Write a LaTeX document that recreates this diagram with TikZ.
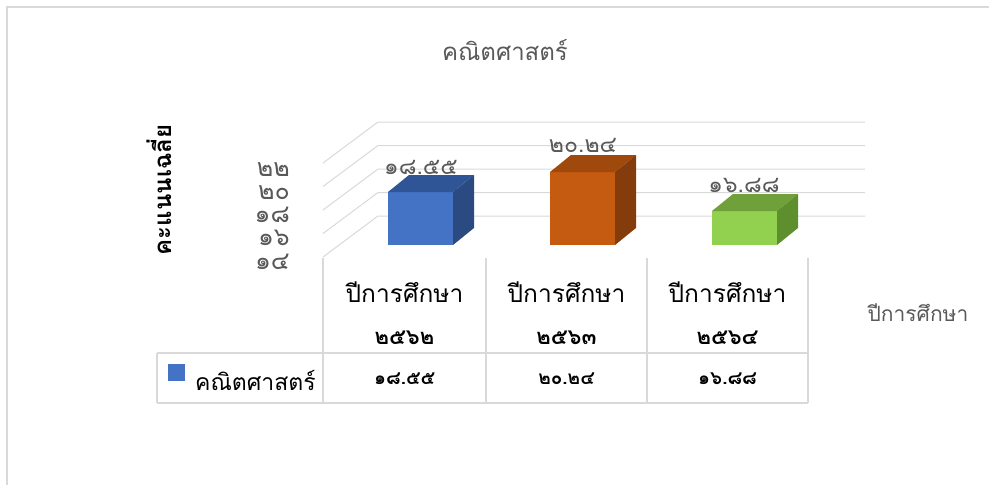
\documentclass[tikz,border=0pt]{standalone}
\usepackage{fontspec}
\newfontfamily\thai[Script=Thai]{Loma}
\definecolor{gridc}{HTML}{D9D9D9}
\definecolor{txtg}{HTML}{595959}
\definecolor{bfront}{HTML}{4472C4}
\definecolor{btop}{HTML}{2F5597}
\definecolor{bside}{HTML}{2B4A82}
\definecolor{ofront}{HTML}{C55A11}
\definecolor{otop}{HTML}{A0490C}
\definecolor{oside}{HTML}{843C0C}
\definecolor{gfront}{HTML}{92D050}
\definecolor{gtop}{HTML}{6FA03A}
\definecolor{gside}{HTML}{5E8F2E}
\tikzset{
  gridl/.style={draw=gridc, line width=1pt},
  tabl/.style={draw=gridc, line width=1.2pt},
  ticklab/.style={font=\thai\fontsize{25}{25}\selectfont, text=txtg, anchor=east, inner sep=0pt},
  vallab/.style={font=\thai\fontsize{23}{23}\selectfont, text=txtg, inner sep=0pt},
  headlab/.style={font=\thai\fontsize{24.5}{24.5}\selectfont, text=black, inner sep=0pt},
  yearlab/.style={font=\thai\bfseries\fontsize{22}{22}\selectfont, text=black, inner sep=0pt},
  datlab/.style={font=\thai\bfseries\fontsize{19}{19}\selectfont, text=black, inner sep=0pt},
}
\begin{document}
\begin{tikzpicture}[x=1pt,y=-1pt]
\useasboundingbox (0,0) rectangle (989,485);
% outer frame (partly visible)
\draw[draw=gridc, line width=2pt] (7,485) -- (7,7) -- (989,7);
% title
\node[font=\thai\fontsize{24}{24}\selectfont, text=txtg, inner sep=0pt] (title) at (505,50) {คณิตศาสตร์};
% y axis title
\node[font=\thai\bfseries\fontsize{24}{24}\selectfont, text=black, rotate=90, inner sep=0pt] (ytitle) at (159,190) {คะแนนเฉลี่ย};
% gridlines
\foreach \v [count=\i] in {14,16,18,20,22}{
  \pgfmathsetmacro{\yf}{257-(\v-14)*11.75}
  \pgfmathsetmacro{\yb}{216-(\v-14)*11.75}
  \coordinate (gf\i) at (323,\yf);
  \coordinate (gb\i) at (378,\yb);
  \coordinate (ge\i) at (865,\yb);
  \draw[gridl] (gf\i) -- (gb\i) -- (ge\i);
}
% tick labels
\node[ticklab] (t14) at (290,262) {๑๔};
\node[ticklab] (t16) at (290,238) {๑๖};
\node[ticklab] (t18) at (290,215) {๑๘};
\node[ticklab] (t20) at (290,193) {๒๐};
\node[ticklab] (t22) at (290,170) {๒๒};
% bars: front x0, width 65, base 245, depth (21,-17)
\foreach \xa/\top/\cf/\ct/\cs in {388/192/bfront/btop/bside, 550/172/ofront/otop/oside, 712/211/gfront/gtop/gside}{
  \pgfmathsetmacro{\xb}{\xa+65}
  \fill[\cf] (\xa,245) rectangle (\xb,\top);
  \fill[\ct] (\xa,\top) -- (\xb,\top) -- ++(21,-17) -- (\xa+21,\top-17) -- cycle;
  \fill[\cs] (\xb,245) -- (\xb,\top) -- ++(21,-17) -- (\xb+21,228) -- cycle;
}
% value labels
\node[vallab] (v1) at (421,167) {๑๘.๕๕};
\node[vallab] (v2) at (583,145) {๒๐.๒๔};
\node[vallab] (v3) at (744,185) {๑๖.๘๘};
% data table
\draw[tabl] (157,353) -- (808,353);
\draw[tabl] (157,403) -- (808,403);
\draw[tabl] (157,353) -- (157,403);
\foreach \xx in {323,486,647,808}{\draw[tabl] (\xx,258) -- (\xx,403);}
\foreach \cx/\yr/\vv [count=\k] in {404.5/๒๕๖๒/๑๘.๕๕, 566.5/๒๕๖๓/๒๐.๒๔, 727.5/๒๕๖๔/๑๖.๘๘}{
  \node[headlab] (h\k) at (\cx,292) {ปีการศึกษา};
  \node[yearlab] (y\k) at (\cx,338) {\yr};
  \node[datlab] (d\k) at (\cx,379) {\vv};
}
\fill[bfront] (168,364) rectangle (185,381);
\node[headlab, font=\thai\fontsize{23}{23}\selectfont, anchor=west] (leg) at (195,380) {คณิตศาสตร์};
% category axis title
\node[font=\thai\fontsize{21}{21}\selectfont, text=txtg, inner sep=0pt] (xtitle) at (918,313) {ปีการศึกษา};
\end{tikzpicture}
\end{document}
